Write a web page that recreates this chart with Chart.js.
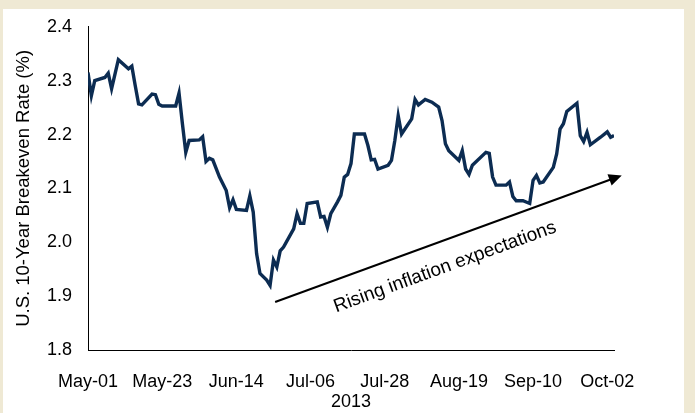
<!DOCTYPE html>
<html>
<head>
<meta charset="utf-8">
<script src="https://cdn.jsdelivr.net/npm/chart.js@4/dist/chart.umd.min.js"></script>
<style>
  html, body { margin: 0; padding: 0; background: #efe9d4; }
  #wrap { position: absolute; left: 0; top: 0; width: 695px; height: 413px; }
</style>
</head>
<body>
<div id="wrap"><canvas id="chart" width="695" height="413"></canvas></div>
<script>
// Days counted from 2013-05-01, with the 10-year breakeven rate (%) on each.
const days = [
  0, 1, 2, 5, 6, 7, 9, 12, 13, 14, 15, 16, 19, 20, 21, 22, 26, 27, 28, 29,
  30, 33, 34, 35, 36, 37, 39, 41, 42, 43, 44, 47, 48, 49, 50, 51, 53, 54, 55, 56,
  57, 58, 61, 62, 63, 64, 65, 68, 69, 70, 71, 72, 74, 75, 76, 77, 78, 79, 82, 83,
  84, 85, 86, 89, 90, 91, 92, 93, 96, 97, 98, 100, 102, 104, 105, 106, 107, 110, 111, 112,
  113, 114, 118, 119, 120, 121, 124, 125, 126, 127, 129, 131, 132, 133, 134, 135, 138, 139, 140, 141,
  142, 145, 146, 147, 148, 149, 152, 154, 155, 156
];
const rates = [
  2.315, 2.272, 2.300, 2.306, 2.314, 2.285, 2.339, 2.322, 2.327, 2.291, 2.257, 2.255, 2.275, 2.274, 2.256, 2.253, 2.253, 2.277, 2.220, 2.167,
  2.189, 2.190, 2.196, 2.150, 2.156, 2.153, 2.121, 2.096, 2.064, 2.079, 2.061, 2.059, 2.086, 2.056, 1.979, 1.942, 1.930, 1.920, 1.967, 1.954,
  1.984, 1.991, 2.025, 2.053, 2.035, 2.035, 2.072, 2.075, 2.047, 2.048, 2.028, 2.053, 2.075, 2.087, 2.121, 2.126, 2.146, 2.201, 2.201, 2.180,
  2.153, 2.154, 2.136, 2.143, 2.152, 2.189, 2.235, 2.201, 2.229, 2.265, 2.255, 2.265, 2.260, 2.251, 2.226, 2.183, 2.170, 2.152, 2.170, 2.136,
  2.126, 2.143, 2.167, 2.165, 2.121, 2.106, 2.106, 2.112, 2.085, 2.077, 2.077, 2.072, 2.115, 2.124, 2.110, 2.112, 2.139, 2.164, 2.210, 2.220,
  2.243, 2.258, 2.198, 2.187, 2.204, 2.181, 2.195, 2.205, 2.195, 2.198
];

// Date axis labels, one every 22 days
const tickDays = [0, 22, 44, 66, 88, 110, 132, 154];
const tickLabels = ['May-01', 'May-23', 'Jun-14', 'Jul-06', 'Jul-28', 'Aug-19', 'Sep-10', 'Oct-02'];
const yTicks = [1.8, 1.9, 2.0, 2.1, 2.2, 2.3, 2.4];

// Trend arrow, [day, rate] at each end
const arrowFrom = [55.5, 1.889];
const arrowTo = [158.3, 2.124];
const arrowText = 'Rising inflation expectations';

const FONT = "'Liberation Sans', Arial, sans-serif";
const LINE_COLOR = '#0c2c52';

/** beige frame with the white panel inside */
const framePlugin = {
  id: 'frame',
  beforeDraw(chart) {
    const ctx = chart.ctx;
    ctx.save();
    ctx.fillStyle = '#efe9d4';
    ctx.fillRect(0, 0, chart.width, chart.height);
    ctx.fillStyle = '#ffffff';
    ctx.fillRect(3, 9, 681, 404);
    ctx.restore();
  },
};

/** arrow + rotated caption under it */
const arrowPlugin = {
  id: 'trendArrow',
  afterDatasetsDraw(chart) {
    const { ctx, scales: { x, y } } = chart;
    const x1 = x.getPixelForValue(arrowFrom[0]);
    const y1 = y.getPixelForValue(arrowFrom[1]);
    const x2 = x.getPixelForValue(arrowTo[0]);
    const y2 = y.getPixelForValue(arrowTo[1]);
    const ang = Math.atan2(y2 - y1, x2 - x1);
    const cos = Math.cos(ang), sin = Math.sin(ang);
    const head = 13;

    ctx.save();
    ctx.strokeStyle = '#000';
    ctx.fillStyle = '#000';
    ctx.lineWidth = 2;
    ctx.beginPath();
    ctx.moveTo(x1, y1);
    ctx.lineTo(x2 - cos * head * 0.8, y2 - sin * head * 0.8);
    ctx.stroke();

    ctx.beginPath();
    ctx.moveTo(x2, y2);
    ctx.lineTo(x2 - head * cos + 6 * sin, y2 - head * sin - 6 * cos);
    ctx.lineTo(x2 - head * cos - 6 * sin, y2 - head * sin + 6 * cos);
    ctx.closePath();
    ctx.fill();

    // caption: a bit under half-way along the arrow, pushed down along its normal
    const t = 0.465;
    const off = 16;
    ctx.translate(x1 + (x2 - x1) * t - sin * off, y1 + (y2 - y1) * t + cos * off);
    ctx.rotate(ang);
    ctx.font = '19px ' + FONT;
    ctx.textAlign = 'center';
    ctx.textBaseline = 'top';
    ctx.fillText(arrowText, 0, 0);
    ctx.restore();
  },
};

new Chart(document.getElementById('chart'), {
  type: 'line',
  data: {
    datasets: [{
      data: days.map((d, i) => ({ x: d, y: rates[i] })),
      borderColor: LINE_COLOR,
      borderWidth: 3.4,
      pointRadius: 0,
      tension: 0,
      fill: false,
    }],
  },
  options: {
    responsive: false,
    animation: false,
    layout: { padding: { top: 25, right: 81, left: 0, bottom: 0 } },
    plugins: { legend: { display: false }, tooltip: { enabled: false } },
    scales: {
      x: {
        type: 'linear',
        min: 0,
        max: 156,
        afterBuildTicks: (s) => { s.ticks = tickDays.map((v) => ({ value: v })); },
        afterFit: (s) => { s.height = 413 - 350; },
        grid: { display: false, drawTicks: false },
        border: { display: true, color: '#000', width: 1 },
        ticks: {
          autoSkip: false,
          maxRotation: 0,
          padding: 21,
          color: '#000',
          font: { family: FONT, size: 18 },
          callback: (v) => tickLabels[tickDays.indexOf(v)],
        },
        title: {
          display: true,
          text: '2013',
          color: '#000',
          font: { family: FONT, size: 18 },
          padding: { top: 0, bottom: 0 },
        },
      },
      y: {
        min: 1.8,
        max: 2.4,
        afterBuildTicks: (s) => { s.ticks = yTicks.map((v) => ({ value: v })); },
        afterFit: (s) => { s.width = 88; },
        grid: { display: false, drawTicks: false },
        border: { display: true, color: '#000', width: 1 },
        ticks: {
          padding: 16,
          color: '#000',
          font: { family: FONT, size: 18 },
          callback: (v) => v.toFixed(1),
        },
        title: {
          display: true,
          text: 'U.S. 10-Year Breakeven Rate (%)',
          color: '#000',
          font: { family: FONT, size: 18.5 },
          padding: { top: 13, bottom: 0 },
        },
      },
    },
  },
  plugins: [framePlugin, arrowPlugin],
});
</script>
</body>
</html>
